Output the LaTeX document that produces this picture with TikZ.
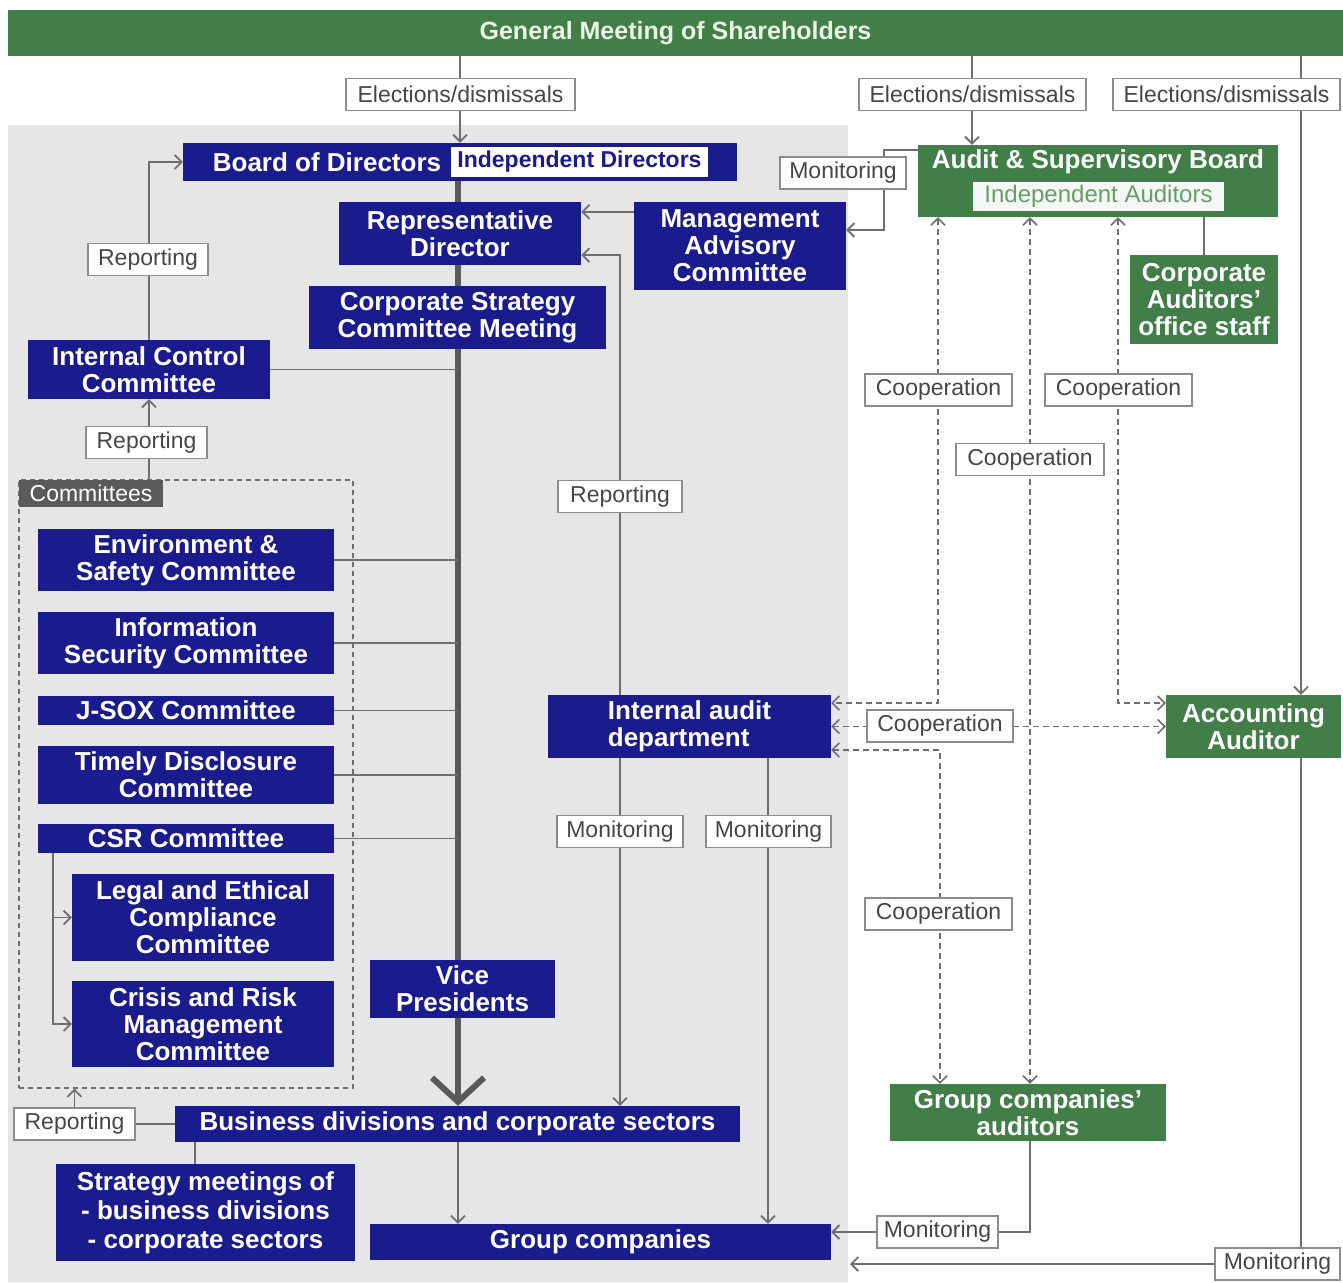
\documentclass[tikz,border=0pt]{standalone}
\usepackage{fontspec}
\setmainfont{Liberation Sans}
\usetikzlibrary{arrows.meta,calc}
\definecolor{navy}{RGB}{26,28,142}
\definecolor{grn}{RGB}{66,126,72}
\definecolor{bggray}{RGB}{230,230,230}
\definecolor{lngray}{RGB}{110,110,110}
\definecolor{lbltext}{RGB}{70,70,70}
\definecolor{lblborder}{RGB}{140,140,140}
\definecolor{titletext}{RGB}{235,245,230}
\definecolor{insetgreen}{RGB}{100,160,100}
\definecolor{tagfill}{RGB}{90,90,90}
\newcommand\bxf{\fontsize{26}{27}\selectfont\bfseries}
\newcommand\lblf{\fontsize{23}{25}\selectfont}
\pgfdeclarelayer{bg}
\pgfdeclarelayer{ln}
\pgfsetlayers{bg,ln,main}
\begin{document}
\begin{tikzpicture}[x=1pt,y=-1pt,
  nbox/.style={fill=navy,text=white,font=\bxf,align=center,inner sep=0pt},
  gbox/.style={fill=grn,text=white,font=\bxf,align=center,inner sep=0pt},
  lbl/.style={fill=white,draw=lblborder,line width=1.2pt,text=lbltext,font=\lblf,inner sep=0pt,minimum height=32},
  conn/.style={draw=lngray,line width=1.8pt},
  arr/.style={-{Straight Barb[length=7pt,width=14pt]}},
  coop/.style={draw=lngray,line width=1.6pt,dash pattern=on 6pt off 4pt,{Straight Barb[length=7pt,width=14pt]}-{Straight Barb[length=7pt,width=14pt]}},
  spine/.style={draw=black!65,line width=6pt,-{Straight Barb[length=24pt,width=52pt,line width=6pt]}}
]
\useasboundingbox (0,0) rectangle (1343,1282);
\begin{pgfonlayer}{bg}
  \fill[white] (0,0) rectangle (1343,1282);
  \fill[bggray] (8,125) rectangle (848,1282);
\end{pgfonlayer}

% helper coordinates (x positions)
\coordinate (sp) at (458,0);
\coordinate (x972) at (972,0);
\coordinate (x1301) at (1301,0);
\coordinate (x53) at (53,0);
\coordinate (x620) at (620,0);
\coordinate (x768) at (768,0);
\coordinate (x938) at (938,0);
\coordinate (x940) at (940,0);
\coordinate (x1030) at (1030,0);
\coordinate (x1118) at (1118,0);
\coordinate (x195) at (195,0);
\coordinate (endpt) at (850,1264);

% top bar
\node[fill=grn,text=titletext,font=\fontsize{25}{27}\selectfont\bfseries,minimum width=1335,minimum height=46,inner sep=0pt] (gm) at (675.5,33) {General Meeting of Shareholders};

% board
\node[fill=navy,minimum width=554,minimum height=38,inner sep=0pt] (board) at (460,162) {};
\node[text=white,font=\bxf,inner sep=0pt] (boardtxt) at (327,162) {Board of Directors};
\node[fill=white,text=navy,font=\fontsize{23}{25}\selectfont\bfseries,minimum width=257,minimum height=30,inner sep=0pt] (indep) at (579.5,162) {Independent Directors};

\node[nbox,minimum width=242,minimum height=63] (rep) at (460,233.5) {Representative\\Director};
\node[nbox,minimum width=212,minimum height=88] (mac) at (740,246) {Management\\Advisory\\Committee};
\node[nbox,minimum width=297,minimum height=63] (cscm) at (457.5,317.5) {Corporate Strategy\\Committee Meeting};
\node[nbox,minimum width=242,minimum height=59] (icc) at (149,369.5) {Internal Control\\Committee};

% committees frame
\node[draw=lngray,line width=1.3pt,dash pattern=on 5pt off 4pt,minimum width=334,minimum height=608,inner sep=0pt] (cframe) at (186,784) {};
\node[fill=tagfill,text=white,font=\lblf,minimum width=144,minimum height=27,inner sep=0pt] (comtag) at (91,493.5) {Committees};

\node[nbox,minimum width=296,minimum height=62] (env) at (186,560) {Environment \&\\Safety Committee};
\node[nbox,minimum width=296,minimum height=62] (info) at (186,643) {Information\\Security Committee};
\node[nbox,minimum width=296,minimum height=29] (jsox) at (186,710.5) {J-SOX Committee};
\node[nbox,minimum width=296,minimum height=58] (timely) at (186,775) {Timely Disclosure\\Committee};
\node[nbox,minimum width=296,minimum height=29] (csr) at (186,838.5) {CSR Committee};
\node[nbox,minimum width=262,minimum height=87] (legal) at (203,917.5) {Legal and Ethical\\Compliance\\Committee};
\node[nbox,minimum width=262,minimum height=86] (crisis) at (203,1024) {Crisis and Risk\\Management\\Committee};

\node[nbox,minimum width=185,minimum height=58] (vp) at (462.5,989) {Vice\\Presidents};
\node[nbox,minimum width=283,minimum height=63,align=left] (iad) at (689.5,726.5) {Internal audit\\department};
\node[nbox,minimum width=565,minimum height=36] (bd) at (457.5,1124) {Business divisions and corporate sectors};
\node[nbox,minimum width=299,minimum height=97,font=\fontsize{26}{29}\selectfont\bfseries] (strat) at (205.5,1212.5) {Strategy meetings of\\- business divisions\\- corporate sectors};
\node[nbox,minimum width=461,minimum height=36] (gc) at (600.5,1242) {Group companies};

% green boxes
\node[fill=grn,minimum width=360,minimum height=72,inner sep=0pt] (asb) at (1098,181) {};
\node[text=white,font=\bxf,inner sep=0pt] (asbtxt) at (1098,162) {Audit \& Supervisory Board};
\node[fill=white!94!grn,text=insetgreen,font=\fontsize{24}{26}\selectfont,minimum width=251,minimum height=29,inner sep=0pt] (indaud) at (1098.5,196.5) {Independent Auditors};
\node[gbox,minimum width=148,minimum height=89] (office) at (1204,299.5) {Corporate\\Auditors'\\office staff};
\node[gbox,minimum width=175,minimum height=63] (aa) at (1253.5,726.5) {Accounting\\Auditor};
\node[gbox,minimum width=276,minimum height=57] (gca) at (1028,1112.5) {Group companies'\\auditors};

% labels
\node[lbl,minimum width=229] (el1) at (460.5,94.5) {Elections/dismissals};
\node[lbl,minimum width=227] (el2) at (972.5,94.5) {Elections/dismissals};
\node[lbl,minimum width=227] (el3) at (1226.5,94.5) {Elections/dismissals};
\node[lbl,minimum width=120] (rep1) at (148,259.5) {Reporting};
\node[lbl,minimum width=121] (rep2) at (146.5,442.5) {Reporting};
\node[lbl,minimum width=124] (repM) at (620,496.5) {Reporting};
\node[lbl,minimum width=126] (mon1) at (620,831.5) {Monitoring};
\node[lbl,minimum width=125] (mon2) at (768.5,831.5) {Monitoring};
\node[lbl,minimum width=121] (repB) at (74.5,1124) {Reporting};
\node[lbl,minimum width=126] (monA) at (843,173) {Monitoring};
\node[lbl,minimum width=147] (coop1) at (938.5,390) {Cooperation};
\node[lbl,minimum width=147] (coop2) at (1118.5,390) {Cooperation};
\node[lbl,minimum width=148] (coop3) at (1030,459.5) {Cooperation};
\node[lbl,minimum width=146] (coop4) at (940,726) {Cooperation};
\node[lbl,minimum width=147] (coop5) at (938.5,914) {Cooperation};
\node[lbl,minimum width=121] (monG) at (937.5,1232) {Monitoring};
\node[lbl,minimum width=125] (monR) at (1277.5,1264) {Monitoring};

% connectors
\begin{pgfonlayer}{ln}
  \draw[conn,arr] (gm.south -| board.north) -- (board.north);
  \draw[conn,arr] (x972 |- gm.south) -- (x972 |- asb.north);
  \draw[conn,arr] (x1301 |- gm.south) -- (x1301 |- aa.north);
  \draw[spine] (sp |- board.south) -- (sp |- bd.north);
  \draw[conn,arr] (icc.north) |- (board.west);
  \draw[conn,arr] (icc.south |- cframe.north) -- (icc.south);
  \draw[conn] (icc.east) -- (icc.east -| sp);
  \draw[conn] (env.east) -- (env.east -| sp);
  \draw[conn] (info.east) -- (info.east -| sp);
  \draw[conn] (jsox.east) -- (jsox.east -| sp);
  \draw[conn] (timely.east) -- (timely.east -| sp);
  \draw[conn] (csr.east) -- (csr.east -| sp);
  \draw[conn,arr] (x53 |- csr.south) |- (crisis.west);
  \draw[conn,arr] (x53 |- legal.west) -- (legal.west);
  \draw[conn,arr] ([yshift=-10pt]mac.north west) -- ([yshift=-10pt]rep.north east);
  \draw[conn,arr] (x620 |- iad.north) |- ([yshift=10pt]rep.south east);
  \draw[conn,arr] (x620 |- iad.south) -- (x620 |- bd.north);
  \draw[conn,arr] (x768 |- iad.south) -- (x768 |- gc.north);
  \draw[conn,arr] ([yshift=-5pt]asb.north west) -| ([xshift=38pt,yshift=16pt]mac.east) -- ([yshift=16pt]mac.east);
  \draw[conn] (office.north) -- (office.north |- asb.south);
  \draw[coop] (x938 |- asb.south) |- ([yshift=23.5pt]iad.east);
  \draw[coop] (x1030 |- asb.south) -- (x1030 |- gca.north);
  \draw[coop] (x1118 |- asb.south) |- ([yshift=23.5pt]aa.west);
  \draw[coop] (iad.east) -- (aa.west);
  \draw[coop] ([yshift=-23.5pt]iad.east) -| (x940 |- gca.north);
  \draw[conn] (bd.west) -- (repB.east);
  \draw[conn,arr] (repB.north) -- (repB.north |- cframe.south);
  \draw[conn] (x195 |- bd.south) -- (x195 |- strat.north);
  \draw[conn,arr] (sp |- bd.south) -- (sp |- gc.north);
  \draw[conn,arr] (x1030 |- gca.south) |- ([yshift=10pt]gc.east);
  \draw[conn] (x1301 |- aa.south) -- (x1301 |- monR.north);
  \draw[conn,arr] (monR.west) -- (endpt);
\end{pgfonlayer}
\end{tikzpicture}
\end{document}
